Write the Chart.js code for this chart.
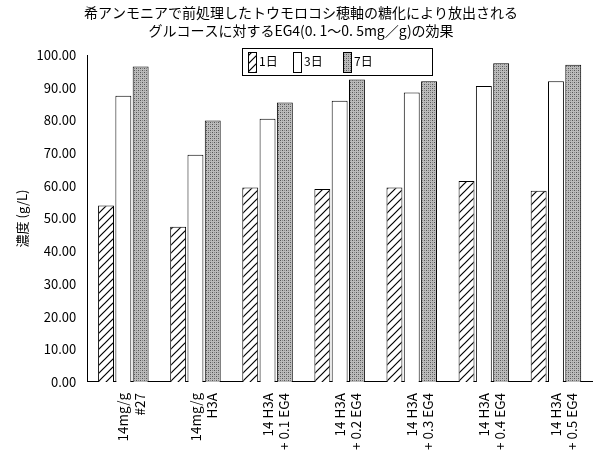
<!DOCTYPE html><html><head><meta charset="utf-8">
<script src="https://cdn.jsdelivr.net/npm/chart.js@4"></script>
<style>body{margin:0;background:#fff}#w{width:606px;height:457px}</style></head><body><div id="w"><canvas id="c"></canvas></div>
<script>
const categories=[["14mg/g","#27"],["14mg/g","H3A"],["14 H3A","+ 0.1 EG4"],["14 H3A","+ 0.2 EG4"],["14 H3A","+ 0.3 EG4"],["14 H3A","+ 0.4 EG4"],["14 H3A","+ 0.5 EG4"]];
const seriesNames=["1日","3日","7日"];
const day1=[54,47.5,59.5,59,59.5,61.5,58.5];
const day3=[87.5,69.5,80.5,86,88.5,90.5,92];
const day7=[96.5,80,85.5,92.5,92,97.5,97];
const F='"Noto Sans CJK JP","DejaVu Sans",sans-serif';
function hatch(){const c=document.createElement('canvas');c.width=c.height=8;const x=c.getContext('2d');x.fillStyle='#fff';x.fillRect(0,0,8,8);x.strokeStyle='#000';x.lineWidth=1.2;x.beginPath();x.moveTo(0,8);x.lineTo(8,0);x.moveTo(-2,2);x.lineTo(2,-2);x.moveTo(6,10);x.lineTo(10,6);x.stroke();return x.createPattern(c,'repeat');}
function dots(){const c=document.createElement('canvas');c.width=c.height=4;const x=c.getContext('2d');x.fillStyle='#bbb';x.fillRect(0,0,4,4);x.fillStyle='#555';x.fillRect(0,0,1,1);x.fillRect(2,2,1,1);x.fillStyle='#888';x.fillRect(2,0,1,1);x.fillRect(0,2,1,1);return x.createPattern(c,'repeat');}
const fills=[hatch(),'#fff',dots()];
const legendPlugin={id:'lg',afterDraw(ch){const x=ch.ctx;x.save();x.strokeStyle='#000';x.lineWidth=1;x.fillStyle='#fff';x.fillRect(242,48,190,27);x.strokeRect(242.5,48.5,190,27);
const xs=[248,293,343];seriesNames.forEach((n,i)=>{x.fillStyle=fills[i];x.fillRect(xs[i],52,8,20);x.strokeRect(xs[i]+.5,52.5,8,20);x.fillStyle='#000';x.font='12px '+F;x.textBaseline='middle';x.fillText(n,xs[i]+11,61);});
x.restore();}};
new Chart(document.getElementById('c'),{type:'bar',data:{labels:categories,datasets:[day1,day3,day7].map((d,i)=>({label:seriesNames[i],data:d,backgroundColor:fills[i],borderColor:'#000',borderWidth:1,categoryPercentage:0.72,barPercentage:0.92}))},
options:{responsive:true,maintainAspectRatio:false,animation:false,devicePixelRatio:1,layout:{padding:{top:2,right:14,left:10,bottom:4}},
plugins:{legend:{display:false},tooltip:{enabled:false},title:{display:true,text:['希アンモニアで前処理したトウモロコシ穂軸の糖化により放出される','グルコースに対するEG4(0. 1～0. 5mg／g)の効果'],color:'#000',font:{family:F,size:14,weight:'normal',lineHeight:1.25},padding:{top:2,bottom:16}}},
scales:{x:{grid:{display:false},border:{color:'#000'},ticks:{color:'#000',font:{family:F,size:13.5},minRotation:90,maxRotation:90,autoSkip:false}},
y:{min:0,max:100,grid:{display:false},border:{color:'#000'},ticks:{stepSize:10,color:'#000',font:{family:F,size:13},callback:v=>v.toFixed(2)},title:{display:true,text:'濃度 (g/L)',color:'#000',font:{family:F,size:13}}}}},plugins:[legendPlugin]});
</script></body></html>
